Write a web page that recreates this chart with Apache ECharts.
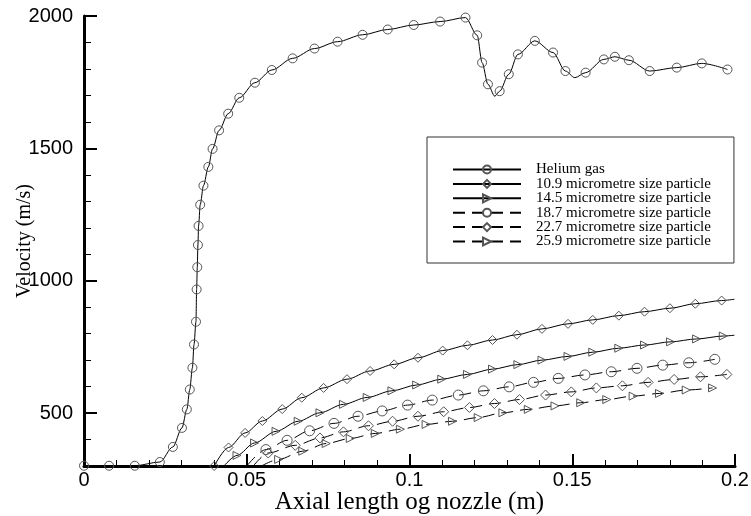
<!DOCTYPE html>
<html><head><meta charset="utf-8">
<script src="https://cdn.jsdelivr.net/npm/echarts@6/dist/echarts.min.js"></script>
<style>html,body{margin:0;padding:0;background:#fff}#c{width:751px;height:516px}</style>
</head><body><div id="c"></div>
<script>
const seriesNames = ['Helium gas', '10.9 micrometre size particle', '14.5 micrometre size particle',
  '18.7 micrometre size particle', '22.7 micrometre size particle', '25.9 micrometre size particle'];
const xTicks = [0, 0.05, 0.1, 0.15, 0.2];
const yMajorTicks = [500, 1000, 1500, 2000];
const yMinorTicks = [400, 600, 700, 800, 900, 1100, 1200, 1300, 1400, 1600, 1700, 1800, 1900];

// marked points (with symbols) and line-only points for each curve
const heliumMarked = [[0,301],[0.0077,301],[0.0156,301],[0.0233,315],[0.0273,372],[0.0301,444],[0.0316,514],
  [0.0325,589],[0.0333,671],[0.0338,759],[0.0344,845],[0.0346,967],[0.0348,1051],[0.0350,1135],[0.0352,1207],
  [0.0357,1287],[0.0367,1359],[0.0382,1430],[0.0395,1498],[0.0415,1568],[0.0443,1631],[0.0477,1691],
  [0.0525,1748],[0.0577,1796],[0.0641,1840],[0.0708,1877],[0.0779,1903],[0.0856,1929],[0.0933,1949],
  [0.1013,1966],[0.1094,1979],[0.1172,1994],[0.1208,1927],[0.1223,1824],[0.1241,1742],[0.1277,1716],
  [0.1305,1780],[0.1333,1855],[0.1385,1906],[0.1441,1862],[0.1479,1792],[0.1541,1786],[0.1597,1836],
  [0.1631,1846],[0.1674,1833],[0.1738,1792],[0.1821,1805],[0.1898,1821],[0.1977,1798]];
const heliumLineOnly = [[0.1262,1697],[0.1508,1767]];

const p109Marked = [[0.0400,300],[0.0444,370],[0.0495,425],[0.0548,470],[0.0609,515],[0.0669,558],[0.0736,595],
  [0.0808,628],[0.0879,659],[0.0953,684],[0.1026,709],[0.1102,736],[0.1178,756],[0.1255,776],[0.1330,796],
  [0.1407,818],[0.1487,837],[0.1563,852],[0.1643,868],[0.1722,883],[0.1800,896],[0.1878,913],[0.1959,925]];
const p109LineOnly = [[0.1998,930]];

const p145Marked = [[0.0470,340],[0.0524,387],[0.0590,431],[0.0658,469],[0.0725,501],[0.0797,533],[0.0870,559],
  [0.0946,584],[0.1022,606],[0.1099,628],[0.1178,646],[0.1255,666],[0.1333,683],[0.1407,700],[0.1487,714],
  [0.1563,730],[0.1643,745],[0.1722,757],[0.1802,769],[0.1882,780],[0.1964,791]];
const p145LineOnly = [[0.0430,300],[0.1998,794]];

const p187Marked = [[0.0559,362],[0.0624,397],[0.0693,433],[0.0768,461],[0.0842,488],[0.0916,508],[0.0994,530],
  [0.1070,549],[0.1150,568],[0.1227,584],[0.1306,599],[0.1381,616],[0.1457,631],[0.1539,644],[0.1620,656],
  [0.1699,669],[0.1778,681],[0.1858,690],[0.1938,703]];
const p187LineOnly = [[0.0500,300]];

const p227Marked = [[0.0566,349],[0.0649,378],[0.0725,406],[0.0797,429],[0.0874,452],[0.0948,469],[0.1026,488],
  [0.1105,505],[0.1184,521],[0.1261,536],[0.1338,551],[0.1418,568],[0.1497,580],[0.1574,595],[0.1654,603],
  [0.1733,616],[0.1813,627],[0.1894,637],[0.1975,646]];
const p227LineOnly = [[0.0520,300]];

const p259Marked = [[0.0598,325],[0.0672,356],[0.0744,385],[0.0818,404],[0.0895,423],[0.0972,439],[0.1051,457],
  [0.1132,469],[0.1211,483],[0.1287,501],[0.1365,514],[0.1447,527],[0.1526,539],[0.1606,551],[0.1687,564],
  [0.1768,574],[0.1850,587],[0.1931,595]];
const p259LineOnly = [[0.0545,300]];

function build(marked, lineOnly) {
  const items = marked.map(p => ({ value: p }))
    .concat(lineOnly.map(p => ({ value: p, symbol: 'none' })));
  items.sort((a, b) => a.value[0] - b.value[0]);
  return items;
}
function mk(name, marked, lineOnly, symbol, size, dashed, rotate) {
  return {
    type: 'line', name, data: build(marked, lineOnly), smooth: 0.3, smoothMonotone: 'x',
    symbol, symbolSize: size, symbolRotate: rotate || 0, showAllSymbol: true, clip: true,
    lineStyle: { color: '#000', width: 1, type: dashed ? [12, 7] : 'solid' },
    itemStyle: { color: 'rgba(255,255,255,0)', borderColor: '#555', borderWidth: 1 },
    emphasis: { disabled: true }
  };
}
const serif = 'Liberation Serif';
const sans = 'Liberation Sans';
const chart = echarts.init(document.getElementById('c'));
chart.setOption({
  animation: false,
  backgroundColor: '#fff',
  grid: { left: 84, right: 16, top: 16, bottom: 50, containLabel: false, outerBoundsMode: 'none' },
  legend: {
    orient: 'vertical', left: 427, top: 137, padding: [25, 23, 14, 25], itemGap: -0.6,
    itemWidth: 68, itemHeight: 10, borderColor: '#333', borderWidth: 1,
    textStyle: { fontFamily: serif, fontSize: 15, lineHeight: 13, color: '#000', padding: [0, 0, 0, 10] },
    data: seriesNames
  },
  xAxis: {
    type: 'value', min: xTicks[0], max: xTicks[xTicks.length - 1], interval: 0.05,
    axisLine: { lineStyle: { color: '#000', width: 3 } },
    axisTick: { inside: true, length: 12, lineStyle: { color: '#000', width: 2 } },
    minorTick: { show: true, splitNumber: 5, length: 6, lineStyle: { color: '#000', width: 1 } },
    axisLabel: { fontFamily: sans, fontSize: 20, color: '#000', margin: 4 },
    splitLine: { show: false },
    name: 'Axial length og nozzle (m)', nameLocation: 'middle', nameGap: 24, nameMoveOverlap: false,
    nameTextStyle: { fontFamily: serif, fontSize: 25, color: '#000' }
  },
  yAxis: [{
    type: 'value', min: 300, max: 2000, position: 'left',
    axisLine: { show: true, lineStyle: { color: '#000', width: 3 } },
    axisTick: { show: true, inside: true, length: 13, customValues: yMajorTicks, lineStyle: { color: '#000', width: 2 } },
    axisLabel: { customValues: yMajorTicks, formatter: v => String(v), fontFamily: sans, fontSize: 20, color: '#000', margin: 11 },
    splitLine: { show: false },
    name: 'Velocity (m/s)', nameLocation: 'middle', nameGap: 49, nameRotate: 90, nameMoveOverlap: false,
    nameTextStyle: { fontFamily: serif, fontSize: 20, color: '#000' }
  }, {
    type: 'value', min: 300, max: 2000, position: 'left',
    axisLine: { show: false },
    axisTick: { show: true, inside: true, length: 7, customValues: yMinorTicks, lineStyle: { color: '#000', width: 1 } },
    axisLabel: { show: false }, splitLine: { show: false }
  }],
  series: [
    mk(seriesNames[0], heliumMarked, heliumLineOnly, 'circle', 9, false),
    mk(seriesNames[1], p109Marked, p109LineOnly, 'diamond', 9, false),
    mk(seriesNames[2], p145Marked, p145LineOnly, 'triangle', 8, false, -90),
    mk(seriesNames[3], p187Marked, p187LineOnly, 'circle', 10, true),
    mk(seriesNames[4], p227Marked, p227LineOnly, 'diamond', 10, true),
    mk(seriesNames[5], p259Marked, p259LineOnly, 'triangle', 8, true, -90)
  ]
});
</script></body></html>
